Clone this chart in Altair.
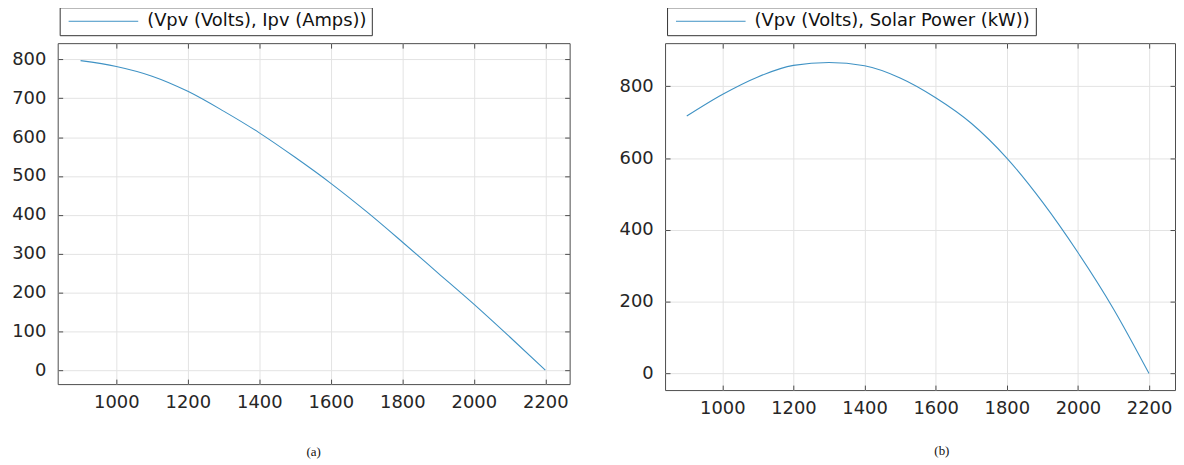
import altair as alt
import pandas as pd

# Data
vpv = [900, 1000, 1100, 1200, 1300, 1400, 1500, 1600, 1700, 1800, 1900, 2000, 2100, 2200]
ipv = [797, 782, 757, 718, 667, 611, 548, 481, 408, 330, 250, 170, 86, 0]
power = [717, 777, 826, 858, 866, 857, 823, 768, 697, 600, 478, 337, 180, 0]

x_ticks = [1000, 1200, 1400, 1600, 1800, 2000, 2200]
ipv_ticks = [0, 100, 200, 300, 400, 500, 600, 700, 800]
power_ticks = [0, 200, 400, 600, 800]

label_a = "(Vpv (Volts), Ipv (Amps))"
label_b = "(Vpv (Volts), Solar Power (kW))"

LINE = "#3f92c4"
FRAME = "#4d4d4d"
TXT = "#262626"
FONT = "DejaVu Sans"


def panel(yvals, label, yticks, xdomain, ydomain, w, h, legend_y, caption, cap_dx, cap_off):
    df = pd.DataFrame({"V": vpv, "Y": yvals, "series": [label] * len(vpv)})
    base = alt.Chart(df)
    xs = alt.Scale(domain=xdomain, nice=False, zero=False)
    ys = alt.Scale(domain=ydomain, nice=False, zero=False)
    common = dict(domain=False, tickSize=5, offset=-5, tickColor=FRAME, tickWidth=1,
                  title=None, labelFont=FONT, labelFontSize=18, labelColor=TXT,
                  gridColor="#e3e3e3", gridWidth=1, format="d")
    main = base.mark_line(strokeWidth=1.1, interpolate="monotone").encode(
        x=alt.X("V:Q", scale=xs,
                axis=alt.Axis(orient="bottom", values=x_ticks, grid=True, labelPadding=10, **common)),
        y=alt.Y("Y:Q", scale=ys,
                axis=alt.Axis(orient="left", values=yticks, grid=True, labelPadding=12, **common)),
        color=alt.Color("series:N", scale=alt.Scale(range=[LINE]),
                        legend=alt.Legend(orient="none", legendX=2, legendY=legend_y, title=None,
                                          strokeColor="#333333", fillColor="white", padding=5,
                                          symbolType="M-1,0H13", symbolSize=100,
                                          symbolStrokeWidth=1, labelFont=FONT, labelFontSize=18,
                                          labelColor="#111111", labelOffset=65, labelLimit=0)),
    )
    mirror = base.mark_line(opacity=0).encode(
        x=alt.X("V:Q", scale=xs,
                axis=alt.Axis(orient="top", values=x_ticks, grid=False, labels=False, **common)),
        y=alt.Y("Y:Q", scale=ys,
                axis=alt.Axis(orient="right", values=yticks, grid=False, labels=False, **common)),
    )
    return alt.layer(main, mirror).resolve_axis(x="independent", y="independent").properties(
        width=w, height=h,
        title=alt.TitleParams(caption, orient="bottom", anchor="middle", frame="group",
                              font="Liberation Serif", fontSize=13, fontWeight="normal",
                              color="#111111", offset=cap_off, dx=cap_dx),
    )


pa = panel(ipv, label_a, ipv_ticks, [836, 2268], [-36, 842], 515, 343, -36, "(a)", 0, 34)
pb = panel(power, label_b, power_ticks, [839, 2273], [-46, 920], 513, 349, -36, "(b)", 22, 27)

chart = (
    alt.hconcat(pa, pb, spacing=48)
    .resolve_scale(color="independent")
    .resolve_legend(color="independent")
    .properties(padding={"left": 3, "top": -3, "right": 0, "bottom": 0}, background="white")
    .configure_view(stroke=FRAME, strokeWidth=1)
)

chart.save("out.html", embed_options={"renderer": "svg", "actions": False})
